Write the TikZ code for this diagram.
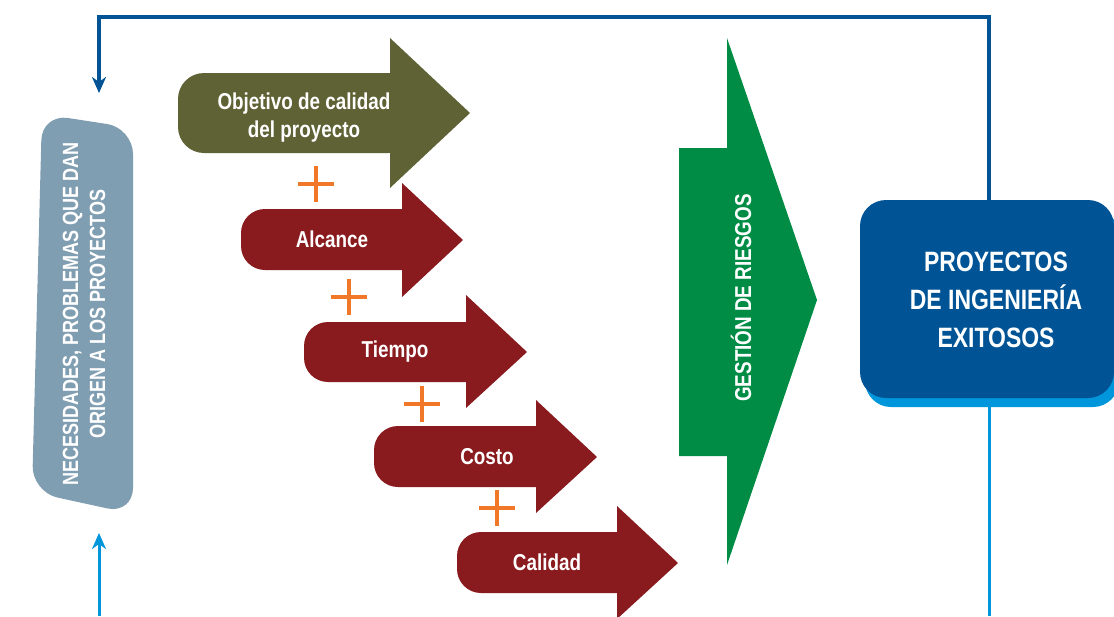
\documentclass[tikz,border=0pt]{standalone}
\usepackage{fontspec}
\setmainfont{Liberation Sans}[FakeStretch=0.82]
\usetikzlibrary{arrows.meta}
\definecolor{objolive}{RGB}{94,98,52}
\definecolor{scopered}{RGB}{137,27,30}
\definecolor{riskgreen}{RGB}{0,140,69}
\definecolor{needgrey}{RGB}{128,158,178}
\definecolor{goalblue}{RGB}{0,84,150}
\definecolor{goallight}{RGB}{0,150,219}
\definecolor{plusorange}{RGB}{240,120,40}
\begin{document}
\begin{tikzpicture}[x=1pt, y=-1pt,
    arrowtext/.style={text=white, font=\fontsize{23}{28}\selectfont\bfseries, align=center, inner sep=0pt},
    needtext/.style={text=white, font=\fontsize{22}{27}\selectfont\bfseries, align=center, inner sep=0pt, rotate=90},
    risktext/.style={text=white, font=\fontsize{23}{28}\selectfont\bfseries, inner sep=0pt, rotate=90},
    goaltext/.style={text=white, font=\fontsize{28}{38}\selectfont\bfseries, align=center, inner sep=0pt},
    goalbox/.style={fill=goalblue, rounded corners=26pt, minimum width=254pt, minimum height=198pt, inner sep=0pt},
    goalshade/.style={goalbox, fill=goallight},
    feedback/.style={goalblue, line width=3.5pt},
    feedlight/.style={goallight, line width=3pt},
    plussign/.style={plusorange, line width=3.2pt}]
    \useasboundingbox (0,0) rectangle (1114,616);
    \coordinate (tr) at (989,17);
    \coordinate (needin) at (99,93);
    \coordinate (br) at (989,616);
    \coordinate (bl) at (99,616);
    \coordinate (needout) at (99,533);
    \node [goalshade] (shade) at (992,308) {};
    \node [goalbox] (goal) at (987,299) {};
    \node [goaltext] (goaltxt) at (996,300) {PROYECTOS\\DE INGENIERÍA\\EXITOSOS};
    \draw [feedback, -{Stealth[length=16pt, width=14pt, inset=5pt]}] (goal.north -| tr) -- (tr) -| (needin);
    \draw [feedlight] (shade.south -| br) -- (br);
    \draw [feedlight, -{Stealth[length=16pt, width=14pt, inset=5pt]}] (bl) -- (needout);
    \fill [needgrey, rounded corners=26pt] (42,114) -- (133,128) -- (133,514) -- (32,492) -- cycle;
    \node [needtext] (need) at (84,314) {NECESIDADES, PROBLEMAS QUE DAN\\ORIGEN A LOS PROYECTOS};
    \fill [riskgreen] (679,148) -- (727,148) -- (727,38) -- (817,300) -- (727,565) -- (727,456) -- (679,456) -- cycle;
    \node [risktext] (risk) at (741,298) {GESTIÓN DE RIESGOS};
    \fill [objolive, rounded corners=26pt] (178,73) rectangle (415,153);
    \fill [objolive] (390,38) -- (470,113) -- (390,188) -- cycle;
    \node [arrowtext] (obj) at (304,118) {Objetivo de calidad\\del proyecto};
    \fill [scopered, rounded corners=24pt] (241,209) rectangle (427,270);
    \fill [scopered] (402,183) -- (463,240) -- (402,297) -- cycle;
    \node [arrowtext, anchor=base] (alc) at (332,247) {Alcance};
    \fill [scopered, rounded corners=24pt] (304,322) rectangle (491,382);
    \fill [scopered] (466,295) -- (527,352) -- (466,408) -- cycle;
    \node [arrowtext, anchor=base] (tie) at (395,357) {Tiempo};
    \fill [scopered, rounded corners=24pt] (374,426) rectangle (561,487);
    \fill [scopered] (536,400) -- (597,457) -- (536,513) -- cycle;
    \node [arrowtext, anchor=base] (cos) at (487,464) {Costo};
    \fill [scopered, rounded corners=24pt] (457,532) rectangle (642,593);
    \fill [scopered] (617,506) -- (678,563) -- (617,619) -- cycle;
    \node [arrowtext, anchor=base] (cal) at (547,570) {Calidad};
    \draw [plussign] (316,184) +(-18,0) -- +(18,0) +(0,-18) -- +(0,18);
    \draw [plussign] (349,297) +(-18,0) -- +(18,0) +(0,-18) -- +(0,18);
    \draw [plussign] (422,404) +(-18,0) -- +(18,0) +(0,-18) -- +(0,18);
    \draw [plussign] (497,508) +(-18,0) -- +(18,0) +(0,-18) -- +(0,18);
\end{tikzpicture}
\end{document}
